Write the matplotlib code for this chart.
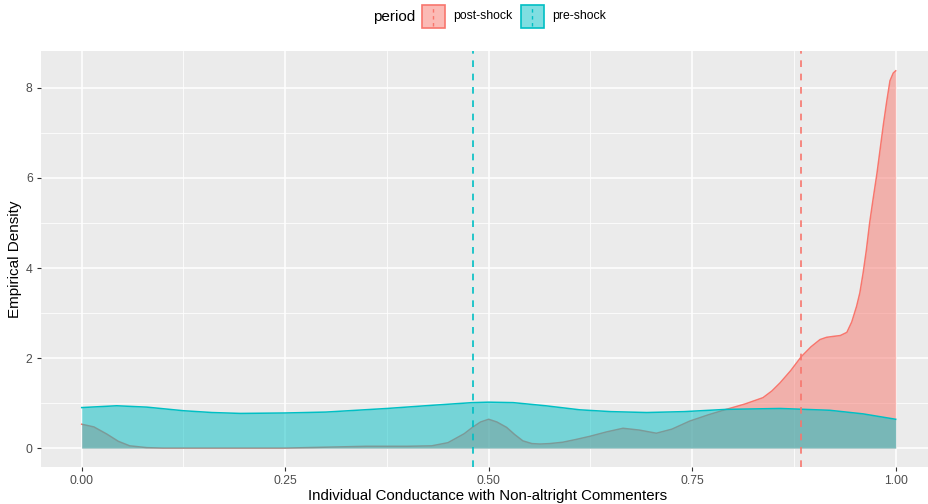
import matplotlib
matplotlib.use('Agg')
import matplotlib.pyplot as plt
from matplotlib.patches import Rectangle
from matplotlib.lines import Line2D

plt.rcParams['font.family'] = ['Liberation Sans', 'DejaVu Sans']

# densities
post_x = [0.0, 0.015, 0.031, 0.045, 0.059, 0.08, 0.1, 0.15, 0.2, 0.25, 0.3,
          0.35, 0.4, 0.43, 0.45, 0.47, 0.48, 0.49, 0.5, 0.51, 0.522, 0.532,
          0.542, 0.553, 0.563, 0.575, 0.591, 0.607, 0.624, 0.645, 0.665,
          0.685, 0.706, 0.725, 0.747, 0.77, 0.792, 0.815, 0.837, 0.848,
          0.858, 0.871, 0.884, 0.896, 0.907, 0.915, 0.923, 0.932, 0.94,
          0.946, 0.952, 0.956, 0.96, 0.964, 0.968, 0.972, 0.977, 0.981,
          0.985, 0.989, 0.993, 0.997, 1.0]
post_y = [0.53, 0.47, 0.31, 0.15, 0.05, 0.01, 0.0, 0.0, 0.0, 0.0, 0.02,
          0.04, 0.04, 0.05, 0.12, 0.32, 0.46, 0.58, 0.64, 0.58, 0.46, 0.3,
          0.16, 0.1, 0.09, 0.1, 0.13, 0.19, 0.26, 0.36, 0.44,
          0.40, 0.33, 0.42, 0.60, 0.74, 0.86, 0.98, 1.12, 1.27,
          1.45, 1.72, 2.03, 2.25, 2.41, 2.46, 2.48, 2.5, 2.57,
          2.8, 3.15, 3.45, 3.89, 4.4, 5.0, 5.5, 6.1, 6.65,
          7.2, 7.7, 8.16, 8.33, 8.38]

pre_x = [0.0, 0.043, 0.08, 0.125, 0.16, 0.195, 0.25, 0.3, 0.375, 0.43, 0.48,
         0.5, 0.53, 0.57, 0.612, 0.65, 0.694, 0.74, 0.792, 0.858, 0.919,
         0.96, 1.0]
pre_y = [0.90, 0.94, 0.91, 0.83, 0.79, 0.77, 0.78, 0.80, 0.88, 0.95, 1.01,
         1.02, 1.01, 0.94, 0.85, 0.81, 0.79, 0.81, 0.86, 0.88, 0.84,
         0.76, 0.64]

periods = ['post-shock', 'pre-shock']
means = [0.884, 0.481]
colors = ['#F8766D', '#00BFC4']

x_ticks = [0.0, 0.25, 0.5, 0.75, 1.0]
x_labels = ['0.00', '0.25', '0.50', '0.75', '1.00']
y_ticks = [0, 2, 4, 6, 8]

W, H = 929, 504


def fx(px):
    return px / W


def fy(py):
    return 1 - py / H


fig = plt.figure(figsize=(W / 100, H / 100), dpi=100)
ax = fig.add_axes([41 / W, (H - 467) / H, (929 - 41) / W, (467 - 51) / H])
ax.set_facecolor('#EBEBEB')

series = [(post_x, post_y), (pre_x, pre_y)]
for i, ((xs, ys), c) in enumerate(zip(series, colors)):
    ax.fill_between(xs, 0, ys, color=c, alpha=0.5, lw=0, zorder=2 + 2 * i)
    ax.plot(xs, ys, color=c, lw=1.1, zorder=3 + 2 * i)

for m, c in zip(means, colors):
    ax.axvline(m, color=c, ls=(0, (4, 4)), lw=1.2, zorder=8)

ax.set_xlim(-0.05, (929 - 81.7) / 814)
ax.set_ylim(-0.42, 8.82)
ax.set_xticks(x_ticks)
ax.set_xticklabels(x_labels)
ax.set_xticks([0.125, 0.375, 0.625, 0.875], minor=True)
ax.set_yticks(y_ticks)
ax.set_yticks([1, 3, 5, 7], minor=True)
ax.grid(True, which='major', color='white', lw=1.1, zorder=0)
ax.grid(True, which='minor', color='white', lw=0.55, zorder=0)
ax.set_axisbelow(True)
for s in ax.spines.values():
    s.set_visible(False)
ax.tick_params(which='major', length=3, width=0.8, color='#333333',
               labelcolor='#4D4D4D', labelsize=8.8, pad=3)
ax.tick_params(which='minor', length=0)

ax.set_xlabel('Individual Conductance with Non-altright Commenters',
              fontsize=10.8, color='black')
ax.xaxis.set_label_coords(fx(487.5), fy(500), transform=fig.transFigure)
ax.xaxis.label.set_va('baseline')
ax.set_ylabel('Empirical Density', fontsize=11, color='black', labelpad=3)

# legend at the top, laid out by hand in pixel positions
fig.text(fx(373), fy(16.5), 'period', fontsize=11, ha='left', va='center')
key_left = [422, 521]
for kl, lab, c in zip(key_left, periods, colors):
    fig.add_artist(Rectangle((fx(kl), fy(28)), 23 / W, 23 / H,
                             transform=fig.transFigure, facecolor=c,
                             alpha=0.5, lw=0))
    fig.add_artist(Rectangle((fx(kl), fy(28)), 23 / W, 23 / H,
                             transform=fig.transFigure, facecolor='none',
                             edgecolor=c, lw=1.2))
    fig.add_artist(Line2D([fx(kl + 11.5)] * 2, [fy(26), fy(7)],
                          transform=fig.transFigure, color=c,
                          ls=(0, (2.5, 2.5)), lw=1.0))
    fig.text(fx(kl + 31), fy(16.5), lab, fontsize=8.8, ha='left',
             va='center')

fig.savefig('out.png', dpi=100)
